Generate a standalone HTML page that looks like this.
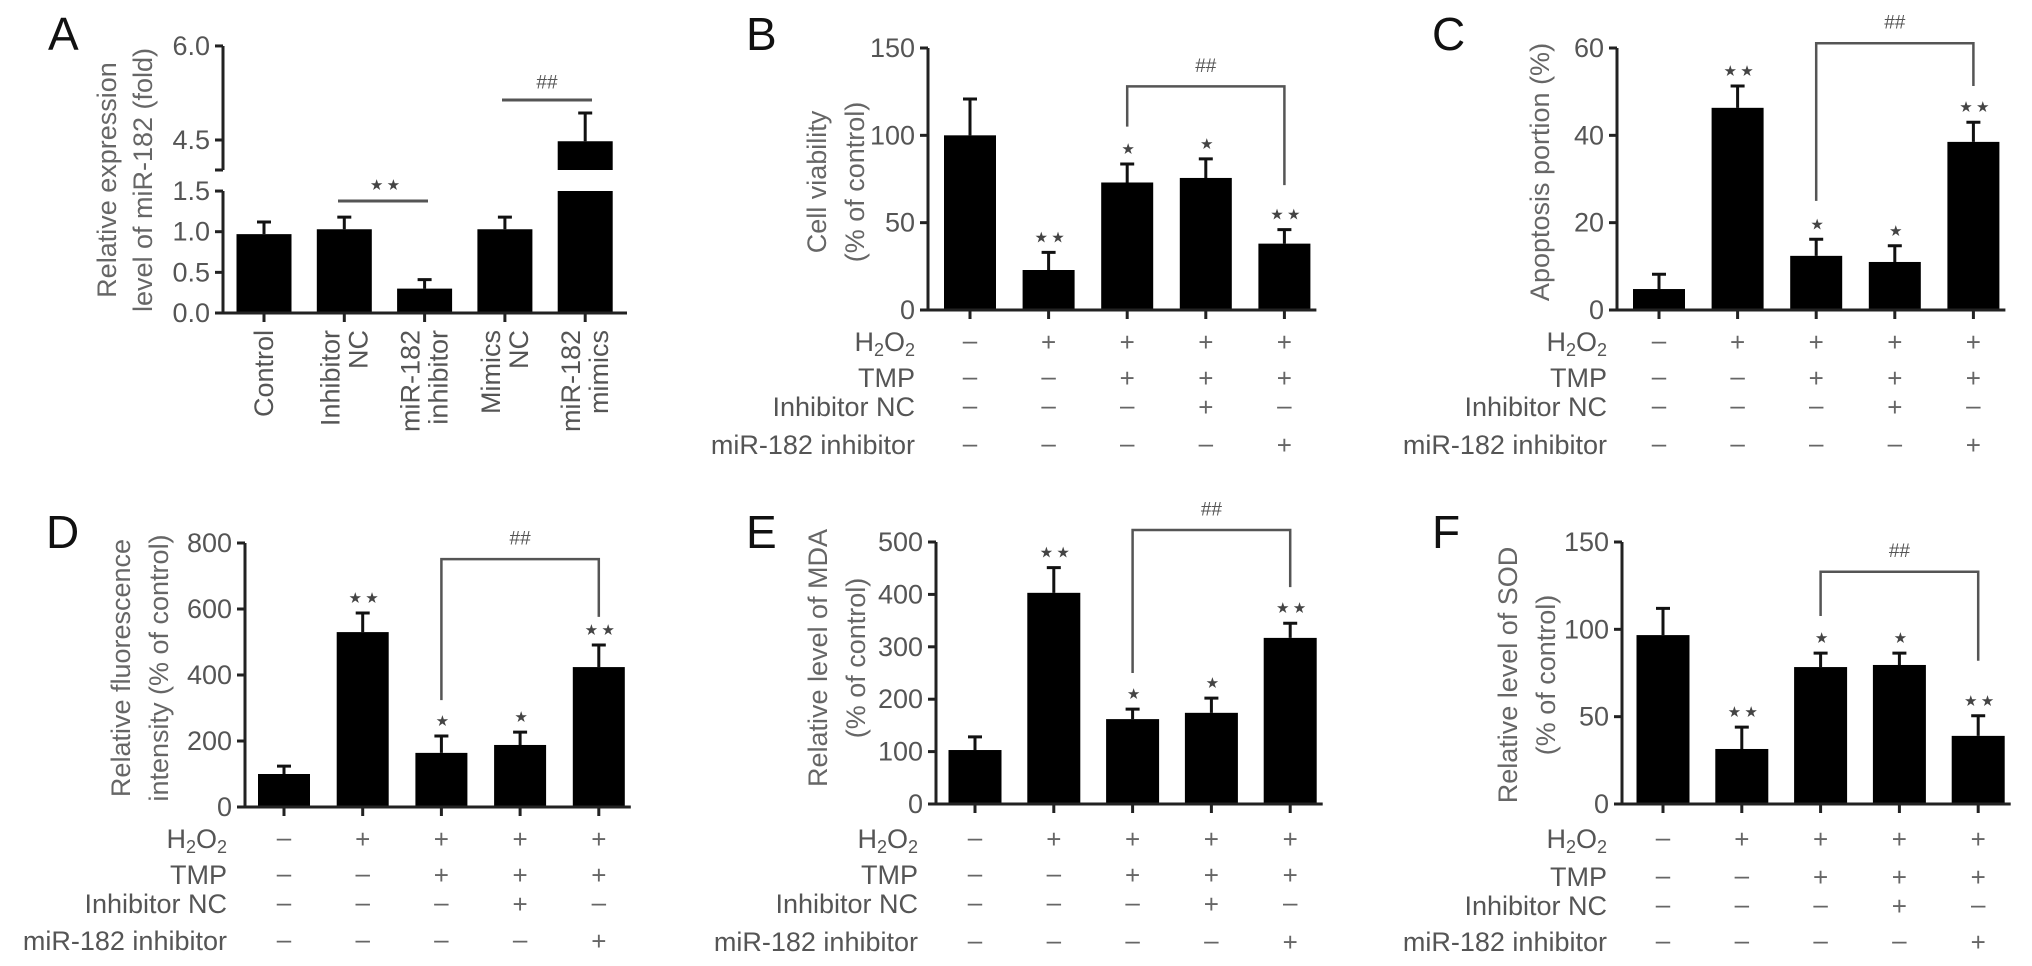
<!DOCTYPE html>
<html><head><meta charset="utf-8">
<style>
html,body{margin:0;padding:0;background:#fff;}
svg{display:block;font-family:"Liberation Sans",Arial,sans-serif;}
</style></head>
<body>
<svg id="fig" width="2032" height="966" viewBox="0 0 2032 966" xmlns="http://www.w3.org/2000/svg"></svg>
<script>
// ---- Panel A data ----
const aCategories = [["Control"],["Inhibitor","NC"],["miR-182","inhibitor"],["Mimics","NC"],["miR-182","mimics"]];
const aValues = [0.97, 1.03, 0.30, 1.03, 4.48];
const aErrors = [0.15, 0.15, 0.11, 0.15, 0.45];
const aTickLabels = ["0.0","0.5","1.0","1.5","4.5","6.0"];
const aTickValues = [0, 0.5, 1.0, 1.5, 4.5, 6.0];

// ---- Shared treatment table ----
const rowLabels = ["H2O2","TMP","Inhibitor NC","miR-182 inhibitor"];
const rowH2O2 = ["–","+","+","+","+"];
const rowTMP = ["–","–","+","+","+"];
const rowInhNC = ["–","–","–","+","–"];
const rowMiR = ["–","–","–","–","+"];
const starLabels = ["","**","*","*","**"];

// ---- Panel B ----
const bValues = [100, 22.9, 73, 75.6, 38];
const bErrors = [20.8, 10.1, 10.6, 10.9, 8];
const bTicks = [0, 50, 100, 150];
const bBracket = [128, 105, 71.5];
// ---- Panel C ----
const cValues = [4.8, 46.3, 12.4, 11, 38.5];
const cErrors = [3.4, 5.0, 3.8, 3.7, 4.5];
const cTicks = [0, 20, 40, 60];
const cBracket = [61.1, 25, 51.3];
// ---- Panel D ----
const dValues = [100, 530, 164, 188, 424];
const dErrors = [24, 58, 51, 39, 67];
const dTicks = [0, 200, 400, 600, 800];
const dBracket = [751, 324, 576];
// ---- Panel E ----
const eValues = [103, 403, 162, 174, 317];
const eErrors = [25, 48, 19, 28, 28];
const eTicks = [0, 100, 200, 300, 400, 500];
const eBracket = [523, 250, 414];
// ---- Panel F ----
const fValues = [96.7, 31.5, 78.4, 79.6, 39];
const fErrors = [15.3, 12.5, 8, 6.8, 11.5];
const fTicks = [0, 50, 100, 150];
const fBracket = [133, 107.6, 82];

const NS = "http://www.w3.org/2000/svg";
const svg = document.getElementById("fig");
function mk(tag, attrs, parent, text){
  const e = document.createElementNS(NS, tag);
  for (const k in attrs) e.setAttribute(k, attrs[k]);
  if (text !== undefined) e.textContent = text;
  (parent||svg).appendChild(e);
  return e;
}
const AX = "#222", TXT = "#555";

function panel(cfg){
  const g = mk("g", {});
  
  
  const yS = v => cfg.y0 - (v / cfg.max) * (cfg.y0 - cfg.ytop);
  const xS = i => cfg.first + i * cfg.step;
  const L = mk("text", {x: cfg.lx, y: cfg.ly, "font-size": 46, fill: "#111"}, g, cfg.letter);
  
  
  cfg.values.forEach((v, i) => {
    const x = xS(i), top = yS(v), et = yS(v + cfg.errors[i]);
    const eb = mk("path", {d: `M${x},${top} V${et} M${x-7},${et} H${x+7}`, stroke: "#111", "stroke-width": 3, fill: "none"}, g);
    
    
    const r = mk("rect", {x: x - cfg.bw/2, y: top, width: cfg.bw, height: cfg.y0 - top, fill: "#000"}, g);
    
    
    if (starLabels[i]) {
      const s = mk("text", {x: x, y: et - 15, "font-size": 30, fill: "#444", "text-anchor": "middle", "dominant-baseline": "central", "letter-spacing": -2}, g, starLabels[i].replace(/\*/g, "⋆"));
      
      
    }
  });
  const ya = mk("path", {d: `M${cfg.ax},${cfg.ytop} V${cfg.y0}`, stroke: AX, "stroke-width": 3}, g);
  
  
  const xa = mk("path", {d: `M${cfg.ax-4},${cfg.y0} H${xS(4)+cfg.bw/2+6}`, stroke: AX, "stroke-width": 3}, g);
  
  
  cfg.ticks.forEach(t => {
    const y = yS(t);
    mk("path", {d: `M${cfg.ax-8},${y} H${cfg.ax}`, stroke: AX, "stroke-width": 3}, g);
    const tl = mk("text", {x: cfg.ax - 13, y: y, "font-size": 27, fill: TXT, "text-anchor": "end", "dominant-baseline": "central"}, g, String(t));
    
    
  });
  for (let i = 0; i < 5; i++) mk("path", {d: `M${xS(i)},${cfg.y0} V${cfg.y0+9}`, stroke: AX, "stroke-width": 3}, g);
  const yt = mk("text", {transform: `translate(${cfg.tx},${cfg.tcy}) rotate(-90)`, "font-size": 27, fill: "#666", "text-anchor": "middle"}, g);
  
  
  cfg.title.forEach((line, k) => {
    mk("tspan", {x: 0, y: k * 38}, yt, line);
  });
  const bx1 = xS(2), bx2 = xS(4), bt = yS(cfg.bracket[0]);
  const br = mk("path", {d: `M${bx1},${yS(cfg.bracket[1])} V${bt} H${bx2} V${yS(cfg.bracket[2])}`, stroke: "#555", "stroke-width": 2.5, fill: "none"}, g);
  
  
  const hh = mk("text", {x: xS(3), y: bt - 20, "font-size": 19, fill: "#555", "text-anchor": "middle", "dominant-baseline": "central"}, g, "##");
  
  
  const rows = [rowH2O2, rowTMP, rowInhNC, rowMiR];
  rows.forEach((row, r) => {
    const y = cfg.rows[r];
    let lab;
    if (r === 0) {
      lab = mk("text", {x: cfg.rx, y: y, "font-size": 27, fill: TXT, "text-anchor": "end", "dominant-baseline": "central"}, g);
      mk("tspan", {}, lab, "H");
      mk("tspan", {"font-size": 18, dy: 8}, lab, "2");
      mk("tspan", {dy: -8}, lab, "O");
      mk("tspan", {"font-size": 18, dy: 8}, lab, "2");
    } else {
      lab = mk("text", {x: cfg.rx, y: y, "font-size": 27, fill: TXT, "text-anchor": "end", "dominant-baseline": "central"}, g, rowLabels[r]);
    }
    
    
    row.forEach((s, i) => {
      const t = mk("text", {x: xS(i), y: y + (s === "+" ? 0 : -2), "font-size": 26, fill: "#666", "text-anchor": "middle", "dominant-baseline": "central"}, g, s);
      
      
    });
  });
}

panel({id:"b", letter:"B", lx:746, ly:50, ax:928, y0:310, ytop:48, max:150, first:970, step:78.6, bw:52,
  values:bValues, errors:bErrors, ticks:bTicks, bracket:bBracket, title:["Cell viability","(% of control)"], tx:826, tcy:182, rows:[342,378,407,445], rx:915});
panel({id:"c", letter:"C", lx:1432, ly:50, ax:1617, y0:310, ytop:48, max:60, first:1659, step:78.6, bw:52,
  values:cValues, errors:cErrors, ticks:cTicks, bracket:cBracket, title:["Apoptosis portion (%)"], tx:1549, tcy:172, rows:[342,378,407,445], rx:1607});
panel({id:"d", letter:"D", lx:46, ly:548, ax:245, y0:807, ytop:543, max:800, first:284, step:78.7, bw:52,
  values:dValues, errors:dErrors, ticks:dTicks, bracket:dBracket, title:["Relative fluorescence","intensity (% of control)"], tx:130, tcy:668, rows:[839,875,904,941], rx:227});
panel({id:"e", letter:"E", lx:746, ly:548, ax:936, y0:804, ytop:542, max:500, first:975, step:78.8, bw:53,
  values:eValues, errors:eErrors, ticks:eTicks, bracket:eBracket, title:["Relative level of MDA","(% of control)"], tx:827, tcy:658, rows:[839,875,904,942], rx:918});
panel({id:"f", letter:"F", lx:1432, ly:548, ax:1622, y0:804, ytop:542, max:150, first:1663, step:78.8, bw:53,
  values:fValues, errors:fErrors, ticks:fTicks, bracket:fBracket, title:["Relative level of SOD","(% of control)"], tx:1517, tcy:675, rows:[839,877,906,942], rx:1607});

(function(){
  const g = mk("g", {});
  
  
  const ax = 223, y0 = 313;
  const yS = v => v <= 1.5 ? y0 - v * 81.3 : 140 - (v - 4.5) * 62.7;
  const breakLo = 191, breakHi = 170;
  const xS = i => 264 + i * 80.3;
  const bw = 55;
  const L = mk("text", {x: 48, y: 50, "font-size": 46, fill: "#111"}, g, "A");
  
  
  aValues.forEach((v, i) => {
    const x = xS(i), top = yS(v), et = yS(v + aErrors[i]);
    const eb = mk("path", {d: `M${x},${top} V${et} M${x-7},${et} H${x+7}`, stroke: "#111", "stroke-width": 3, fill: "none"}, g);
    
    
    if (v > 1.5) {
      const r1 = mk("rect", {x: x - bw/2, y: top, width: bw, height: breakHi - top, fill: "#000"}, g);
      
      
      const r2 = mk("rect", {x: x - bw/2, y: breakLo, width: bw, height: y0 - breakLo, fill: "#000"}, g);
      
      
    } else {
      const r = mk("rect", {x: x - bw/2, y: top, width: bw, height: y0 - top, fill: "#000"}, g);
      
      
    }
    mk("path", {d: `M${x},${y0} V${y0+9}`, stroke: AX, "stroke-width": 3}, g);
    const lab = mk("text", {transform: `translate(${x},330) rotate(-90)`, "font-size": 27, fill: TXT, "text-anchor": "end"}, g);
    
    
    const lines = aCategories[i];
    lines.forEach((t, k) => {
      const off = lines.length === 1 ? 9 : (k === 0 ? -5 : 23);
      mk("tspan", {x: 0, y: off}, lab, t);
    });
  });
  const ya1 = mk("path", {d: `M${ax},46 V${breakHi} M${ax-8},${breakHi} H${ax}`, stroke: AX, "stroke-width": 3, fill: "none"}, g);
  
  
  const ya2 = mk("path", {d: `M${ax},${breakLo} V${y0}`, stroke: AX, "stroke-width": 3}, g);
  
  
  const xa = mk("path", {d: `M${ax-4},${y0} H627`, stroke: AX, "stroke-width": 3}, g);
  
  
  aTickValues.forEach((t, k) => {
    const y = yS(t);
    mk("path", {d: `M${ax-8},${y} H${ax}`, stroke: AX, "stroke-width": 3}, g);
    const tl = mk("text", {x: ax - 13, y: y, "font-size": 27, fill: TXT, "text-anchor": "end", "dominant-baseline": "central"}, g, aTickLabels[k]);
    
    
  });
  const yt = mk("text", {transform: `translate(116,180) rotate(-90)`, "font-size": 27, fill: "#666", "text-anchor": "middle"}, g);
  
  
  mk("tspan", {x: 0, y: 0}, yt, "Relative expression");
  mk("tspan", {x: 0, y: 36}, yt, "level of miR-182 (fold)");
  const s1 = mk("path", {d: "M338,201 H428", stroke: "#555", "stroke-width": 3}, g);
  
  
  const st = mk("text", {x: 384, y: 185, "font-size": 30, fill: "#444", "text-anchor": "middle", "dominant-baseline": "central", "letter-spacing": -2}, g, "⋆⋆");
  
  
  const s2 = mk("path", {d: "M502,100 H592", stroke: "#555", "stroke-width": 3}, g);
  
  
  const hh = mk("text", {x: 547, y: 83, "font-size": 19, fill: "#555", "text-anchor": "middle", "dominant-baseline": "central"}, g, "##");
  
  
})();
</script>
</body></html>
